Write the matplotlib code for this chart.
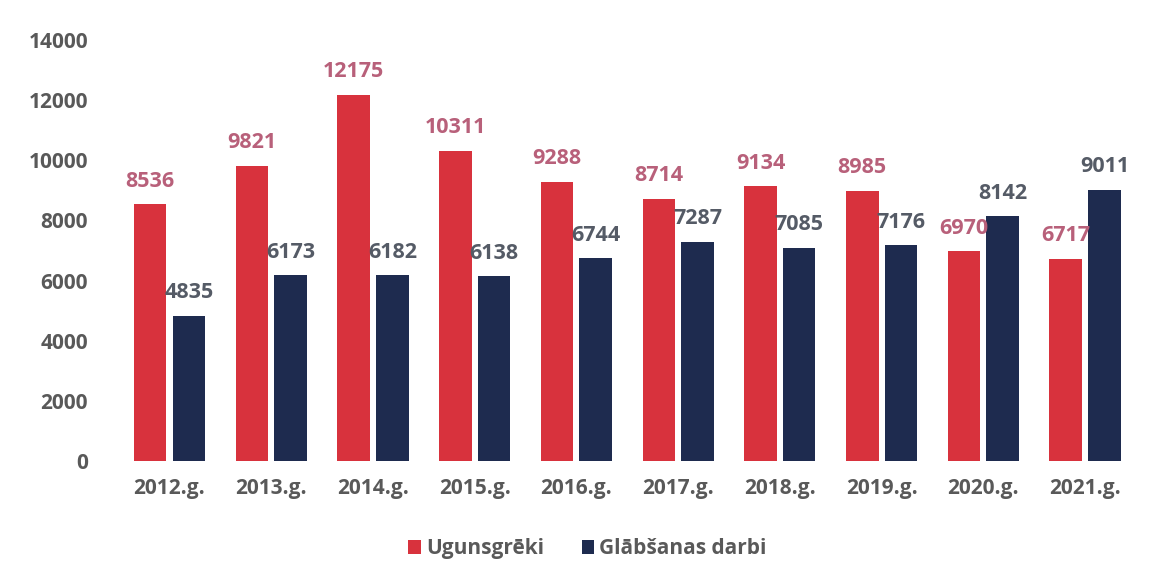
import matplotlib.pyplot as plt
import numpy as np

plt.rcParams["font.family"] = ["Open Sans", "DejaVu Sans"]

years = ["2012.g.", "2013.g.", "2014.g.", "2015.g.", "2016.g.",
         "2017.g.", "2018.g.", "2019.g.", "2020.g.", "2021.g."]
ugunsgreki = [8536, 9821, 12175, 10311, 9288, 8714, 9134, 8985, 6970, 6717]
glabsanas = [4835, 6173, 6182, 6138, 6744, 7287, 7085, 7176, 8142, 9011]

red = "#d8323d"
navy = "#1e2b4f"
grey = "#595959"

fig = plt.figure(figsize=(11.52, 5.78), dpi=100)
ax = fig.add_axes([0.103, 0.2024, 0.883, 0.7286])

x = np.arange(len(years))
w = 0.32
gap = 0.03
b1 = ax.bar(x - w / 2 - gap, ugunsgreki, w, color=red, label="Ugunsgrēki")
b2 = ax.bar(x + w / 2 + gap, glabsanas, w, color=navy, label="Glābšanas darbi")

# vērtības virs stabiem
for bar, v in zip(b1, ugunsgreki):
    ax.annotate(str(v), (bar.get_x() + bar.get_width() / 2, v),
                xytext=(0, 9), textcoords="offset points",
                ha="center", va="bottom", fontsize=15.5, fontweight="bold",
                color="#b8607a")
for bar, v in zip(b2, glabsanas):
    ax.annotate(str(v), (bar.get_x() + bar.get_width() / 2, v),
                xytext=(0, 9), textcoords="offset points",
                ha="center", va="bottom", fontsize=15.5, fontweight="bold",
                color="#555b66")

ax.set_xlim(-0.5, len(years) - 0.5)
ax.set_ylim(0, 14000)
ax.set_yticks(range(0, 14001, 2000))
ax.set_xticks(x)
ax.set_xticklabels(years)
ax.tick_params(axis="both", length=0, labelsize=15, labelcolor=grey)
ax.tick_params(axis="x", pad=12)
ax.tick_params(axis="y", pad=22)
for lbl in ax.get_xticklabels() + ax.get_yticklabels():
    lbl.set_fontweight("bold")
for s in ax.spines.values():
    s.set_visible(False)

leg = fig.legend(loc="lower center", bbox_to_anchor=(0.51, 0.0), ncol=2,
                 frameon=False, fontsize=15, handlelength=0.6, handleheight=0.6,
                 handletextpad=0.25, columnspacing=1.8)
for t in leg.get_texts():
    t.set_fontweight("bold")
    t.set_color(grey)

plt.savefig("out.png", dpi=100)
plt.close()
